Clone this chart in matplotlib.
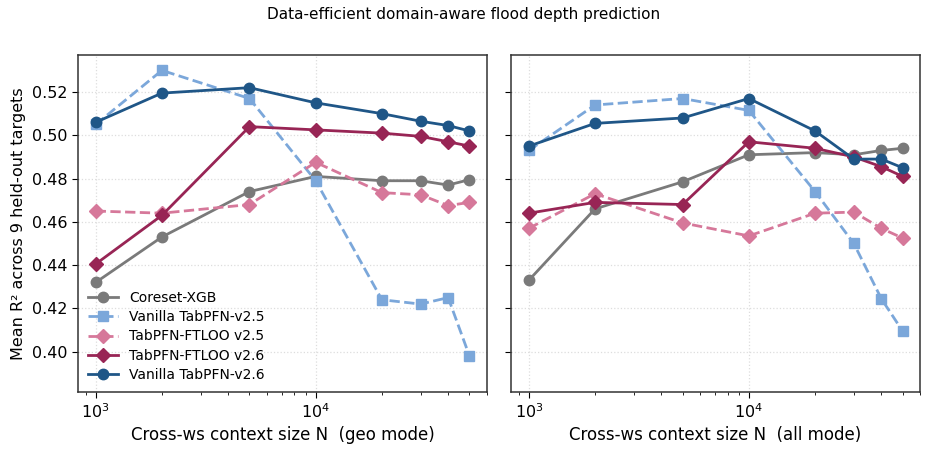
import numpy as np
import matplotlib
matplotlib.use("Agg")
from matplotlib import pyplot as plt

N = [1000, 2000, 5000, 10000, 20000, 30000, 40000, 50000]

# geo mode
geo_coreset = [0.432, 0.453, 0.474, 0.481, 0.479, 0.479, 0.477, 0.4795]
geo_van25 = [0.505, 0.530, 0.517, 0.479, 0.424, 0.422, 0.425, 0.398]
geo_ft25 = [0.465, 0.464, 0.468, 0.4875, 0.4735, 0.4725, 0.4675, 0.469]
geo_ft26 = [0.4405, 0.463, 0.504, 0.5025, 0.501, 0.4995, 0.497, 0.495]
geo_van26 = [0.506, 0.5195, 0.522, 0.515, 0.510, 0.5065, 0.5045, 0.502]

# all mode
all_coreset = [0.433, 0.466, 0.4785, 0.491, 0.492, 0.491, 0.493, 0.494]
all_van25 = [0.493, 0.514, 0.517, 0.5115, 0.474, 0.450, 0.4245, 0.4095]
all_ft25 = [0.457, 0.473, 0.4595, 0.4535, 0.464, 0.4645, 0.457, 0.4525]
all_ft26 = [0.464, 0.469, 0.468, 0.497, 0.494, 0.490, 0.4855, 0.481]
all_van26 = [0.495, 0.5055, 0.508, 0.517, 0.502, 0.489, 0.489, 0.485]

labels = ["Coreset-XGB", "Vanilla TabPFN-v2.5", "TabPFN-FTLOO v2.5",
          "TabPFN-FTLOO v2.6", "Vanilla TabPFN-v2.6"]
colors = ["#7a7a7a", "#7ba7da", "#d6789a", "#982555", "#1f5687"]
markers = ["o", "s", "D", "D", "o"]
styles = ["-", "--", "--", "-", "-"]

fig, axes = plt.subplots(1, 2, figsize=(9.27, 4.68), dpi=100, sharey=True)
fig.subplots_adjust(left=0.084, right=0.9925, bottom=0.163, top=0.882, wspace=0.059)

panels = [
    (axes[0], [geo_coreset, geo_van25, geo_ft25, geo_ft26, geo_van26], "Cross-ws context size N  (geo mode)"),
    (axes[1], [all_coreset, all_van25, all_ft25, all_ft26, all_van26], "Cross-ws context size N  (all mode)"),
]

for ax, series, xlabel in panels:
    for vals, lab, c, m, ls in zip(series, labels, colors, markers, styles):
        ax.plot(N, vals, ls, color=c, marker=m, label=lab, lw=2, ms=7.5 if m != "D" else 7)
    ax.set_xscale("log")
    ax.set_xlim(830, 60000)
    ax.set_xlabel(xlabel, fontsize=12)
    ax.grid(True, which="major", ls=":", color="#dddddd", lw=0.9)
    for s in ax.spines.values():
        s.set_color("#333333")
        s.set_linewidth(1.1)
    ax.tick_params(which="both", direction="out", labelsize=11.5)
    ax.tick_params(which="major", length=4)
    ax.tick_params(which="minor", length=2.5)

axes[0].set_ylim(0.3815, 0.537)
axes[0].set_yticks([0.40, 0.42, 0.44, 0.46, 0.48, 0.50, 0.52])
axes[0].set_ylabel("Mean R² across 9 held-out targets", fontsize=11.5)
axes[0].legend(loc="lower left", frameon=False, fontsize=10, handlelength=2.2,
               labelspacing=0.38, borderaxespad=0.3)

fig.suptitle("Data-efficient domain-aware flood depth prediction", fontsize=11, y=0.985)

fig.savefig("out.png", dpi=100)
